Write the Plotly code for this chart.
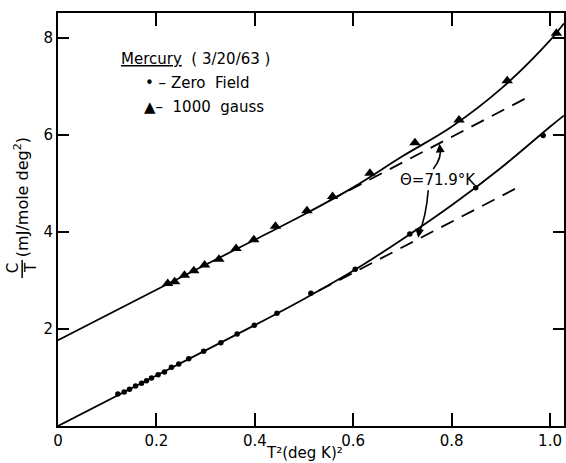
import plotly.graph_objects as go

# ---- data ----
zero_x = [0.1217, 0.1345, 0.1454, 0.1576, 0.1698, 0.1799, 0.1901, 0.2035, 0.2164, 0.2306,
          0.2454, 0.2657, 0.296, 0.331, 0.364, 0.399, 0.445, 0.514, 0.604, 0.715, 0.849, 0.986]
zero_y = [0.66, 0.70, 0.757, 0.825, 0.880, 0.934, 0.990, 1.058, 1.113, 1.210,
          1.278, 1.388, 1.54, 1.717, 1.897, 2.076, 2.323, 2.736, 3.23, 3.96, 4.91, 5.99]

gauss_x = [0.223, 0.237, 0.257, 0.276, 0.298, 0.327, 0.362, 0.398, 0.442, 0.506,
           0.558, 0.634, 0.7255, 0.815, 0.913, 1.013]
gauss_y = [2.94, 2.975, 3.11, 3.20, 3.32, 3.44, 3.66, 3.84, 4.12, 4.44,
           4.73, 5.21, 5.84, 6.31, 7.12, 8.10]

zero_fit_x = [0, 0.2, 0.4, 0.5, 0.6, 0.7, 0.8, 0.9, 1.0, 1.028]
zero_fit_y = [0, 1.04, 2.08, 2.62, 3.20, 3.85, 4.55, 5.32, 6.17, 6.40]

gauss_fit_x = [0, 0.2, 0.4, 0.5, 0.6, 0.7, 0.8, 0.9, 1.0, 1.028]
gauss_fit_y = [1.77, 2.81, 3.84, 4.36, 4.92, 5.56, 6.17, 6.95, 7.95, 8.30]

zero_dash_x = [0.53, 0.9405]
zero_dash_y = [2.79, 4.95]
gauss_dash_x = [0.55, 0.959]
gauss_dash_y = [4.64, 6.80]

x_ticks = [0, 0.2, 0.4, 0.6, 0.8, 1.0]
x_ticktext = ["0", "0.2", "0.4", "0.6", "0.8", "1.0"]
y_ticks = [2, 4, 6, 8]
y_ticktext = ["2", "4", "6", "8"]

theta_text = "\u0398=71.9\u00b0K"

FONT = "DejaVu Sans"
W, H = 566, 463
ML, MR, MT, MB = 58, 0, 13, 37


def px(xp):
    return (xp - ML) / (W - ML - MR)


def py(yp):
    return (H - MB - yp) / (H - MT - MB)


fig = go.Figure()

line_style = dict(color="black", width=1.8)
fig.add_trace(go.Scatter(x=zero_fit_x, y=zero_fit_y, mode="lines", line=dict(**line_style, shape="spline"),
                         showlegend=False, hoverinfo="skip"))
fig.add_trace(go.Scatter(x=gauss_fit_x, y=gauss_fit_y, mode="lines", line=dict(**line_style, shape="spline"),
                         showlegend=False, hoverinfo="skip"))
fig.add_trace(go.Scatter(x=zero_dash_x, y=zero_dash_y, mode="lines",
                         line=dict(color="black", width=1.8, dash="14px,9px"), showlegend=False))
fig.add_trace(go.Scatter(x=gauss_dash_x, y=gauss_dash_y, mode="lines",
                         line=dict(color="black", width=1.8, dash="14px,9px"), showlegend=False))
fig.add_trace(go.Scatter(x=zero_x, y=zero_y, mode="markers", name="Zero Field",
                         marker=dict(symbol="circle", size=5.5, color="black"), showlegend=False))
fig.add_trace(go.Scatter(x=gauss_x, y=gauss_y, mode="markers", name="1000 gauss",
                         marker=dict(symbol="triangle-up", size=10, color="black"), showlegend=False))

# curved arrows from the Theta label
fig.add_shape(type="path", xref="x", yref="y",
              path="M 0.7627,5.30 Q 0.782,5.55 0.7755,5.76",
              line=dict(color="black", width=1.6))
fig.add_shape(type="path", xref="x", yref="y",
              path="M 0.7525,4.86 Q 0.748,4.30 0.733,3.95",
              line=dict(color="black", width=1.6))

annotations = [
    dict(x=0.7755, y=5.82, ax=0.7765, ay=5.70, xref="x", yref="y", axref="x", ayref="y",
         text="", showarrow=True, arrowhead=2, arrowsize=1.1, arrowwidth=1.6, arrowcolor="black"),
    dict(x=0.732, y=3.88, ax=0.734, ay=4.00, xref="x", yref="y", axref="x", ayref="y",
         text="", showarrow=True, arrowhead=2, arrowsize=1.1, arrowwidth=1.6, arrowcolor="black"),
    dict(x=0.773, y=5.07, xref="x", yref="y", text=theta_text, showarrow=False,
         font=dict(family=FONT, size=15, color="black")),
    # legend block
    dict(x=px(119), y=py(59), xref="paper", yref="paper", xanchor="left", yanchor="middle",
         text="<u>Mercury</u>  ( 3/20/63 )", showarrow=False,
         font=dict(family=FONT, size=15, color="black")),
    dict(x=px(143), y=py(83), xref="paper", yref="paper", xanchor="left", yanchor="middle",
         text="\u2022 \u2013 Zero  Field", showarrow=False,
         font=dict(family=FONT, size=15, color="black")),
    dict(x=px(142), y=py(107), xref="paper", yref="paper", xanchor="left", yanchor="middle",
         text="\u25b2\u2013  1000  gauss", showarrow=False,
         font=dict(family=FONT, size=15, color="black")),
    # x-axis title
    dict(x=px(305), y=py(453), xref="paper", yref="paper", xanchor="center", yanchor="middle",
         text="T\u00b2(deg K)\u00b2", showarrow=False,
         font=dict(family=FONT, size=15, color="black")),
    # y-axis title: fraction C/T then units
    dict(x=px(13), y=py(268), xref="paper", yref="paper", xanchor="center", yanchor="middle",
         text="C", textangle=-90, showarrow=False, font=dict(family=FONT, size=15, color="black")),
    dict(x=px(31), y=py(268), xref="paper", yref="paper", xanchor="center", yanchor="middle",
         text="T", textangle=-90, showarrow=False, font=dict(family=FONT, size=15, color="black")),
    dict(x=px(21), y=py(259), xref="paper", yref="paper", xanchor="center", yanchor="bottom",
         text="(mJ/mole deg<sup>2</sup>)", textangle=-90, showarrow=False,
         font=dict(family=FONT, size=16, color="black")),
]

fig.add_shape(type="line", xref="paper", yref="paper", x0=px(22), x1=px(22), y0=py(260), y1=py(278),
              line=dict(color="black", width=1.5))

fig.update_layout(
    width=W, height=H,
    margin=dict(l=ML, r=MR, t=MT, b=MB),
    paper_bgcolor="white", plot_bgcolor="white",
    showlegend=False,
    annotations=annotations,
    font=dict(family=FONT, size=14, color="black"),
    xaxis=dict(range=[0, 1.0284], tickvals=x_ticks, ticktext=x_ticktext, ticks="inside", ticklen=13,
               tickwidth=2, tickcolor="black", showline=True, linewidth=2, linecolor="black",
               mirror="ticks", showgrid=False, zeroline=False,
               tickfont=dict(family=FONT, size=15, color="black")),
    yaxis=dict(range=[0, 8.515], tickvals=y_ticks, ticktext=y_ticktext, ticks="inside", ticklen=11,
               tickwidth=2, tickcolor="black", showline=True, linewidth=2, linecolor="black",
               mirror="ticks", showgrid=False, zeroline=False,
               tickfont=dict(family=FONT, size=15, color="black")),
)

fig.write_html("out.html", config={"displayModeBar": False},
               post_script="document.body.style.margin='0px';document.body.style.padding='0px';")
